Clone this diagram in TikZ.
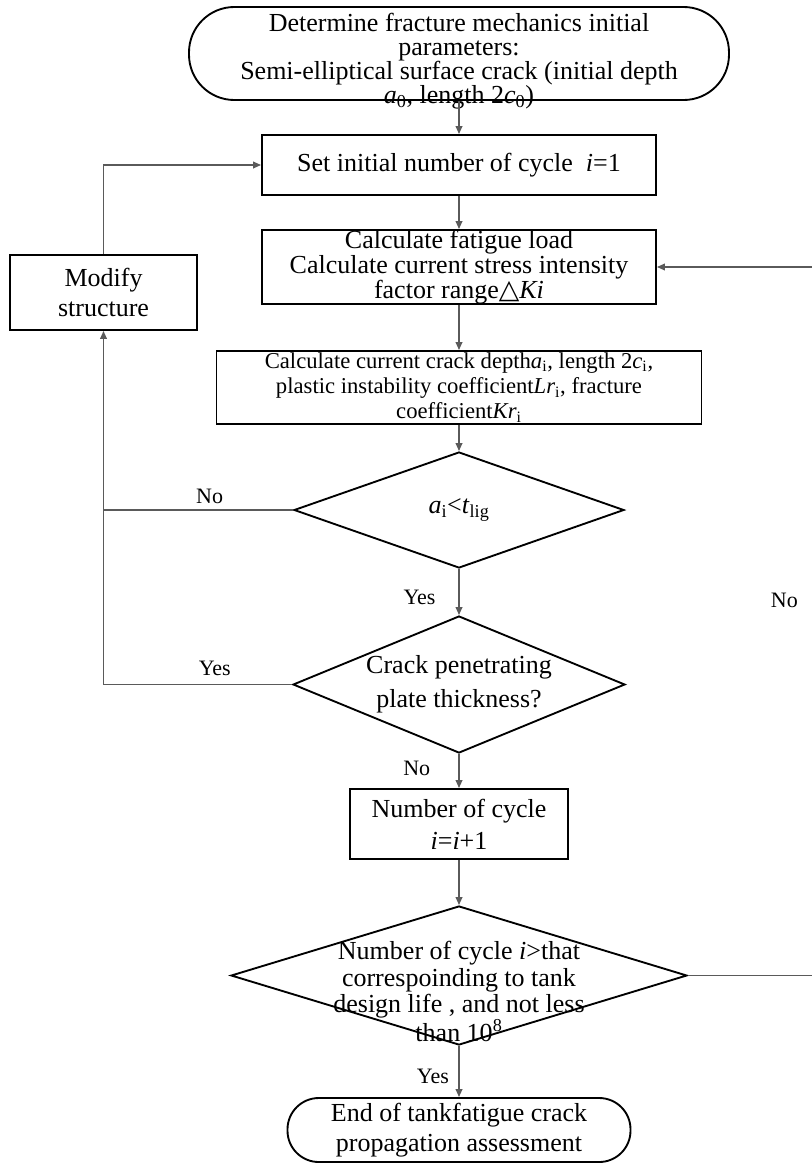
\documentclass[tikz,border=0pt]{standalone}
\usepackage{fontspec}
\setmainfont{Liberation Serif}
\newfontfamily\symbolfont{DejaVu Sans}
\usepackage{tikz}
\usetikzlibrary{shapes.geometric, arrows.meta, positioning}
\definecolor{linegray}{RGB}{90, 90, 90}

\begin{document}
\begin{tikzpicture}[
    x=0.75pt, y=-0.75pt,
    terminal/.style={draw, rectangle, line width=1.4pt, align=center, inner sep=0pt, font=\fontsize{19.5}{23}\selectfont},
    process/.style={draw, rectangle, line width=1.4pt, align=center, inner xsep=0pt, inner ysep=-3pt, font=\fontsize{19.5}{19}\selectfont},
    decision/.style={draw, diamond, line width=1.4pt, align=center, inner xsep=0pt, inner ysep=-20pt, font=\fontsize{19.5}{20}\selectfont},
    arrow/.style={draw=linegray, line width=1.2pt, -{Triangle[length=6pt, width=5pt]}},
    plainline/.style={draw=linegray, line width=1.2pt},
    lbl/.style={font=\fontsize{16.5}{18}\selectfont, inner sep=1pt}
]
\useasboundingbox (0,0) rectangle (812,1164);

% Main column
\node[terminal, rounded corners=34pt, inner ysep=-9pt, minimum width=405pt, minimum height=69.75pt, font=\fontsize{19.5}{18}\selectfont] (start) at (459,53.5) {\rule{0pt}{25pt}Determine fracture mechanics initial\\parameters:\\Semi-elliptical surface crack (initial depth\\\textit{a}\textsubscript{0}, length 2\textit{c}\textsubscript{0})};
\node[process, minimum width=295.5pt, minimum height=45pt] (init) at (459,165) {Set initial number of cycle\enspace\textit{i}=1};
\node[process, minimum width=295.5pt, minimum height=55.5pt] (load) at (459,267) {Calculate fatigue load\\Calculate current stress intensity\\factor range{\symbolfont\fontsize{20}{19}\selectfont △}\textit{Ki}};
\node[process, minimum width=363.75pt, minimum height=54.75pt, font=\fontsize{17}{19}\selectfont] (crack) at (459,387.5) {Calculate current crack depth\textit{a}\textsubscript{i}, length 2\textit{c}\textsubscript{i},\\plastic instability coefficient\textit{Lr}\textsubscript{i}, fracture\\coefficient\textit{Kr}\textsubscript{i}};
\node[decision, aspect=2.84, minimum width=247.5pt, minimum height=87pt] (dec1) at (459,510) {\textit{a}\textsubscript{i}<\textit{t}\textsubscript{lig}};
\node[decision, aspect=2.42, minimum width=249pt, minimum height=102.75pt, font=\fontsize{19.5}{25.5}\selectfont] (dec2) at (459,684.5) {Crack penetrating\\plate thickness?};
\node[process, minimum width=163.5pt, minimum height=52.5pt, font=\fontsize{19.5}{24}\selectfont] (cycle) at (459,824) {Number of cycle\\\textit{i}=\textit{i}+1};
\node[decision, aspect=3.28, inner ysep=-34pt, minimum width=342pt, minimum height=104.25pt] (dec3) at (459,975.5) {\rule{0pt}{38pt}Number of cycle \textit{i}>that\\correspoinding to tank\\design life , and not less\\than 10\textsuperscript{8}};
\node[terminal, rounded corners=23.5pt, minimum width=257.25pt, minimum height=48pt] (finish) at (459,1130) {End of tankfatigue crack\\propagation assessment};

% Side box
\node[process, minimum width=140.25pt, minimum height=56.25pt, font=\fontsize{19.5}{23}\selectfont] (modify) at (103.5,292.5) {Modify\\structure};
\coordinate (ret) at (816,975.5);

% Flow
\draw[arrow] (start) -- (init);
\draw[arrow] (init) -- (load);
\draw[arrow] (load) -- (crack);
\draw[arrow] (crack) -- (dec1);
\draw[arrow] (dec1) -- node[lbl, left=16pt, pos=0.62]{Yes} (dec2);
\draw[arrow] (dec2) -- node[lbl, left=20pt, pos=0.42]{No} (cycle);
\draw[arrow] (cycle) -- (dec3);
\draw[arrow] (dec3) -- node[lbl, left=6pt, pos=0.6]{Yes} (finish);

% Loops
\draw[plainline] (dec1.west) -- node[lbl, above=3pt, pos=0.44]{No} (dec1.west -| modify.south);
\draw[arrow] (dec2.west) -- node[lbl, above=5pt, pos=0.41]{Yes} (dec2.west -| modify.south) -- (modify.south);
\draw[arrow] (modify.north) |- (init.west);
\draw[arrow] (dec3.east) -- (ret) -- node[lbl, left=12pt, pos=0.53]{No} (ret |- load.east) -- (load.east);

\end{tikzpicture}
\end{document}
